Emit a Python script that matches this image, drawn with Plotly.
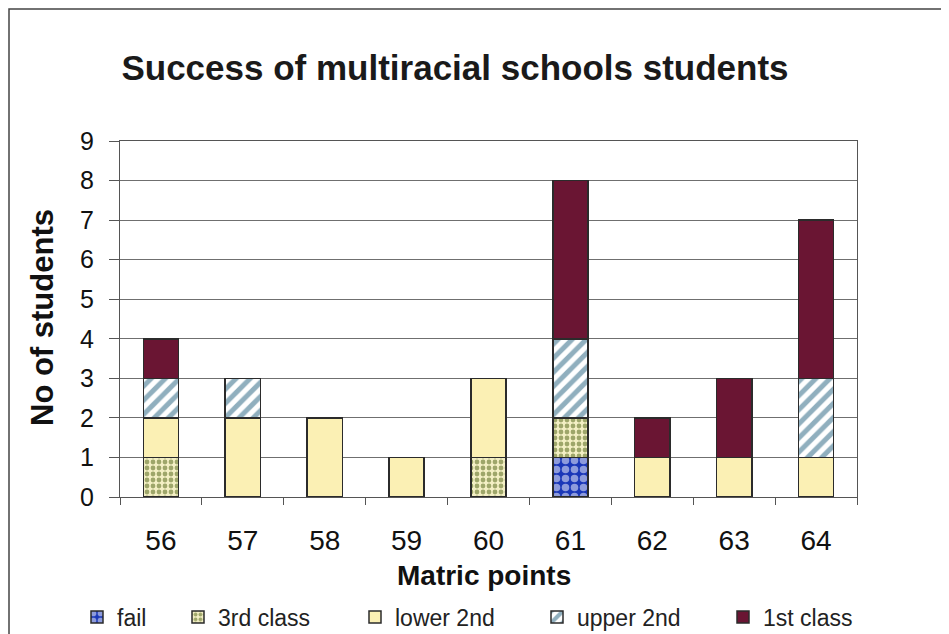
import plotly.graph_objects as go

categories = ["56", "57", "58", "59", "60", "61", "62", "63", "64"]
fail = [0, 0, 0, 0, 0, 1, 0, 0, 0]
third_class = [1, 0, 0, 0, 1, 1, 0, 0, 0]
lower_2nd = [1, 2, 2, 1, 2, 0, 1, 1, 1]
upper_2nd = [1, 1, 0, 0, 0, 2, 0, 0, 2]
first_class = [1, 0, 0, 0, 0, 4, 1, 2, 4]
y_ticks = list(range(0, 10))

# page body has an 8px margin; figure sized to fill the rest of the 949x634 window
OFF = 8
W, H = 949 - OFF, 634 - OFF
# plot area in window pixels
L, R, T, B = 120, 857, 141, 497
pw, ph = R - L, B - T


def px(x):
    return (x - L) / pw


def py(y):
    return (B - y) / ph


line = dict(color="#2b2b2b", width=1.5)
fig = go.Figure()
fig.add_trace(go.Bar(name="fail", x=categories, y=fail, legend="legend",
                     marker=dict(color="#1a37b8", line=line,
                                 pattern=dict(shape=".", fgcolor="white", bgcolor="#1a37b8", size=9, solidity=0.55))))
fig.add_trace(go.Bar(name="3rd class", x=categories, y=third_class, legend="legend2",
                     marker=dict(color="#f3efc4", line=line,
                                 pattern=dict(shape=".", fgcolor="#4a5e10", bgcolor="#f3efc4", size=6, solidity=0.5))))
fig.add_trace(go.Bar(name="lower 2nd", x=categories, y=lower_2nd, legend="legend3",
                     marker=dict(color="#fbf0b4", line=line)))
fig.add_trace(go.Bar(name="upper 2nd", x=categories, y=upper_2nd, legend="legend4",
                     marker=dict(color="white", line=line,
                                 pattern=dict(shape="/", fgcolor="#22607e", bgcolor="white", size=10, solidity=0.5))))
fig.add_trace(go.Bar(name="1st class", x=categories, y=first_class, legend="legend5",
                     marker=dict(color="#6a1533", line=line)))

legend_text_left = [117, 218, 395, 577, 763]
legend_common = dict(orientation="h", yanchor="middle", y=py(617), xanchor="left",
                     font=dict(size=23, color="#222222"), bgcolor="rgba(0,0,0,0)",
                     itemwidth=30, borderwidth=0)
legends = {}
for i, tx in enumerate(legend_text_left):
    key = "legend" if i == 0 else f"legend{i + 1}"
    legends[key] = dict(legend_common, x=px(tx - 40))

fig.update_layout(
    width=W, height=H,
    barmode="stack", bargap=0.57,
    paper_bgcolor="white", plot_bgcolor="white",
    margin=dict(l=L - OFF, r=W - (R - OFF), t=T - OFF, b=H - (B - OFF), autoexpand=False),
    font=dict(family="Liberation Sans, Arial", color="#111111"),
    title=dict(text="<b>Success of multiracial schools students</b>", x=(455 - OFF) / W, xanchor="center",
               y=1 - (68 - OFF) / H, yanchor="middle", font=dict(size=35, color="#1a1a1a")),
    showlegend=True,
    xaxis=dict(showgrid=False, showline=True, linecolor="#555555", linewidth=1, mirror=True,
               ticks="outside", tickson="boundaries", ticklen=7, tickcolor="#555555",
               ticklabelstandoff=18, automargin=False,
               tickfont=dict(size=28, color="#111111")),
    yaxis=dict(range=[0, 9], tickvals=y_ticks, showgrid=True, gridcolor="#6f6f6f", gridwidth=1,
               showline=True, linecolor="#555555", linewidth=1, mirror=True,
               ticks="outside", ticklen=10, tickcolor="#555555", ticklabelstandoff=10,
               automargin=False,
               tickfont=dict(size=25, color="#111111"), zeroline=False),
    annotations=[
        dict(text="<b>No of students</b>", xref="paper", yref="paper", x=px(42), y=py(318),
             textangle=-90, showarrow=False, font=dict(size=31, color="#111111"),
             xanchor="center", yanchor="middle"),
        dict(text="<b>Matric points</b>", xref="paper", yref="paper", x=px(484), y=py(575),
             showarrow=False, font=dict(size=28, color="#111111"),
             xanchor="center", yanchor="middle"),
    ],
    shapes=[dict(type="rect", xref="paper", yref="paper", x0=px(9), x1=px(970), y0=py(680), y1=py(9),
                 line=dict(color="#444444", width=1.5), fillcolor="rgba(0,0,0,0)", layer="below")],
    **legends,
)

fig.write_html("out.html")
